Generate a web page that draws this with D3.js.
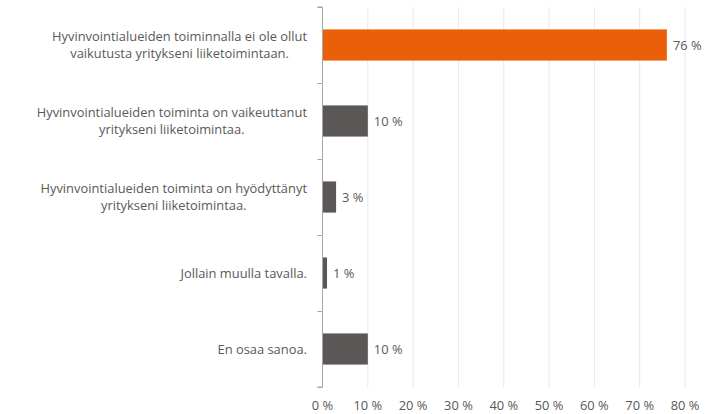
<!DOCTYPE html>
<html><head><meta charset="utf-8">
<script src="https://cdn.jsdelivr.net/npm/d3@7"></script>
<style>body{margin:0;background:#fff}svg{display:block}</style>
</head><body>
<script>
const categories = [
  "Hyvinvointialueiden toiminnalla ei ole ollut\nvaikutusta yritykseni liiketoimintaan.",
  "Hyvinvointialueiden toiminta on vaikeuttanut\nyritykseni liiketoimintaa.",
  "Hyvinvointialueiden toiminta on hyödyttänyt\nyritykseni liiketoimintaa.",
  "Jollain muulla tavalla.",
  "En osaa sanoa."
];
const values = [76, 10, 3, 1, 10];
const highlight = [true, false, false, false, false];
const xTicks = [0, 10, 20, 30, 40, 50, 60, 70, 80];

const W = 719, H = 414;
const m = {left: 322.5, right: 34, top: 7, bottom: 27};
const svg = d3.select("body").append("svg").attr("width", W).attr("height", H);
const x = d3.scaleLinear().domain([0, 80]).range([m.left, 685]);
const y = d3.scaleBand().domain(d3.range(categories.length)).range([m.top, H - m.bottom])
  .paddingInner(0.59).paddingOuter(0.295);
const font = "'Open Sans', 'Liberation Sans', Arial, sans-serif";
const txt = "#595959";
const fs = 12.9;

// gridlines
svg.append("g").selectAll("line").data(xTicks.slice(1)).join("line")
  .attr("x1", d => x(d)).attr("x2", d => x(d))
  .attr("y1", m.top).attr("y2", H - m.bottom)
  .attr("stroke", "#e8e8e8").attr("stroke-width", 1);

// bars
svg.append("g").selectAll("rect").data(values).join("rect")
  .attr("x", x(0)).attr("y", (d, i) => y(i))
  .attr("width", d => x(d) - x(0)).attr("height", y.bandwidth())
  .attr("fill", (d, i) => highlight[i] ? "#EA600A" : "#5B5757");

// value labels
svg.append("g").selectAll("text").data(values).join("text")
  .attr("x", d => x(d) + 6).attr("y", (d, i) => y(i) + y.bandwidth() / 2)
  .attr("dy", "0.35em").attr("font-family", font).attr("font-size", fs)
  .attr("fill", txt).text(d => d + " %");

// y axis
const yAxisScale = d3.scaleLinear().domain([0, categories.length]).range([m.top, H - m.bottom]);
const yAxis = svg.append("g").attr("transform", `translate(${m.left},0)`)
  .call(d3.axisLeft(yAxisScale).ticks(5).tickSize(5).tickFormat(""));
yAxis.select(".domain").attr("stroke", "#a6a6a6").attr("d", `M-5,${m.top}H0V${H - m.bottom}H-5`);
yAxis.selectAll(".tick line").attr("stroke", "#a6a6a6");

// category labels
const lab = svg.append("g").selectAll("text").data(categories).join("text")
  .attr("font-family", font).attr("font-size", fs).attr("fill", txt)
  .attr("text-anchor", "middle");
lab.each(function(d, i) {
  const lines = d.split("\n");
  const t = d3.select(this);
  const lh = 16.5;
  const cy = y(i) + y.bandwidth() / 2;
  const spans = lines.map((ln, k) =>
    t.append("tspan").attr("x", 0).attr("y", cy + (k - (lines.length - 1) / 2) * lh).attr("dy", "0.35em").text(ln));
  const maxW = d3.max(spans, s => s.node().getComputedTextLength());
  spans.forEach(s => s.attr("x", 307 - maxW / 2));
});

// x axis labels
svg.append("g").selectAll("text").data(xTicks).join("text")
  .attr("x", d => x(d)).attr("y", 405.5).attr("dy", "0.35em")
  .attr("text-anchor", "middle").attr("font-family", font).attr("font-size", fs)
  .attr("fill", txt).text(d => d + " %");
</script>
</body></html>
